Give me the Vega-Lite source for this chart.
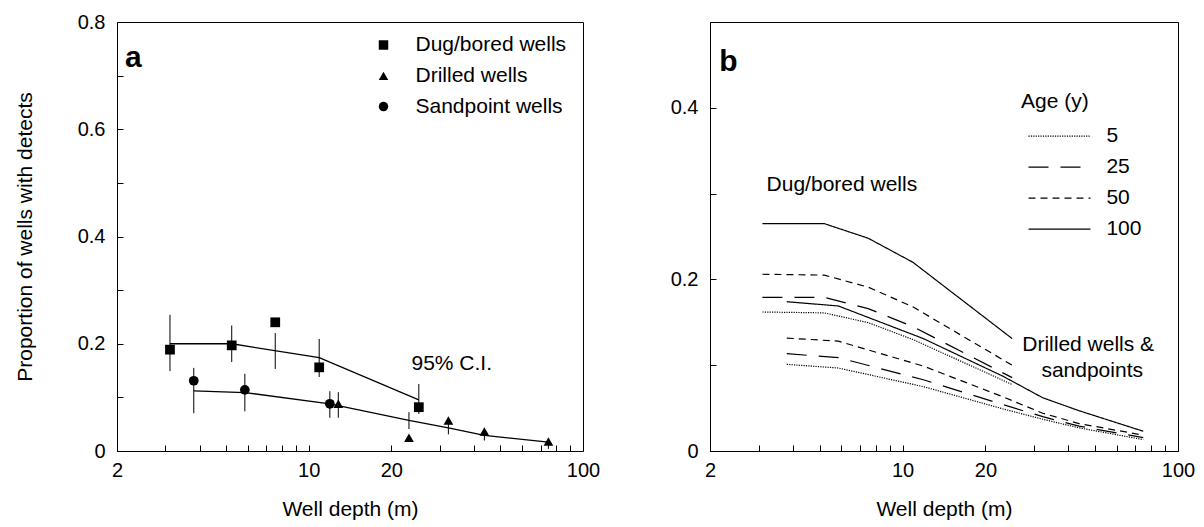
{
  "$schema": "https://vega.github.io/schema/vega-lite/v6.json",
  "padding": {"left": 13, "top": 11, "right": 5, "bottom": 5},
  "background": "white",
  "spacing": 127,
  "bounds": "flush",
  "config": {
    "font": "Liberation Sans",
    "view": {"stroke": "black", "strokeWidth": 1},
    "axis": {"grid": false, "domain": false, "offset": -6, "tickColor": "black", "tickSize": 6, "tickWidth": 1, "labelColor": "black", "labelFontSize": 20, "labelFont": "Liberation Sans", "titleFont": "Liberation Sans", "titleFontSize": 21, "titleFontWeight": "normal", "titleColor": "black", "labelPadding": 12, "labelFlush": false, "labelOverlap": false, "labelBound": false},
    "axisX": {"labelPadding": 9, "titlePadding": 18},
    "axisY": {"titlePadding": 42},
    "legend": {"labelFont": "Liberation Sans", "labelFontSize": 21, "labelColor": "black", "titleFont": "Liberation Sans", "titleColor": "black"},
    "text": {"font": "Liberation Sans", "color": "black"}
  },
  "datasets": {
    "pointsA": [
      {"type": "Dug/bored wells", "depth": 3.12, "p": 0.189, "lo": 0.149, "hi": 0.254},
      {"type": "Dug/bored wells", "depth": 5.24, "p": 0.197, "lo": 0.166, "hi": 0.234},
      {"type": "Dug/bored wells", "depth": 7.55, "p": 0.240, "lo": 0.153, "hi": 0.220},
      {"type": "Dug/bored wells", "depth": 10.92, "p": 0.156, "lo": 0.138, "hi": 0.209},
      {"type": "Dug/bored wells", "depth": 25.2, "p": 0.0817, "lo": 0.069, "hi": 0.125},
      {"type": "Sandpoint wells", "depth": 3.81, "p": 0.131, "lo": 0.0705, "hi": 0.155},
      {"type": "Sandpoint wells", "depth": 5.85, "p": 0.114, "lo": 0.074, "hi": 0.144},
      {"type": "Sandpoint wells", "depth": 11.94, "p": 0.088, "lo": 0.062, "hi": 0.1115},
      {"type": "Drilled wells", "depth": 12.82, "p": 0.088, "lo": 0.062, "hi": 0.1097},
      {"type": "Drilled wells", "depth": 23.2, "p": 0.0246, "lo": 0.041, "hi": 0.0724},
      {"type": "Drilled wells", "depth": 32.3, "p": 0.0569, "lo": 0.031, "hi": 0.062},
      {"type": "Drilled wells", "depth": 43.7, "p": 0.0364, "lo": 0.0196, "hi": 0.043},
      {"type": "Drilled wells", "depth": 74.8, "p": 0.0177, "lo": 0.004, "hi": 0.023}
    ],
    "fitA": [
      {"curve": "dug", "depth": 3.12, "p": 0.200},
      {"curve": "dug", "depth": 5.24, "p": 0.200},
      {"curve": "dug", "depth": 10.92, "p": 0.174},
      {"curve": "dug", "depth": 25.2, "p": 0.0955},
      {"curve": "drilled", "depth": 3.81, "p": 0.1123},
      {"curve": "drilled", "depth": 5.85, "p": 0.109},
      {"curve": "drilled", "depth": 11.94, "p": 0.088},
      {"curve": "drilled", "depth": 23.2, "p": 0.0569},
      {"curve": "drilled", "depth": 32.3, "p": 0.043},
      {"curve": "drilled", "depth": 43.7, "p": 0.029},
      {"curve": "drilled", "depth": 74.8, "p": 0.0164}
    ],
    "linesB": [
      {"well": "dug", "age": "100", "depth": 3.1, "p": 0.265},
      {"well": "dug", "age": "100", "depth": 5.2, "p": 0.265},
      {"well": "dug", "age": "100", "depth": 7.5, "p": 0.248},
      {"well": "dug", "age": "100", "depth": 10.9, "p": 0.220},
      {"well": "dug", "age": "100", "depth": 25.0, "p": 0.131},
      {"well": "dug", "age": "50", "depth": 3.1, "p": 0.206},
      {"well": "dug", "age": "50", "depth": 5.2, "p": 0.205},
      {"well": "dug", "age": "50", "depth": 7.5, "p": 0.191},
      {"well": "dug", "age": "50", "depth": 10.9, "p": 0.168},
      {"well": "dug", "age": "50", "depth": 25.0, "p": 0.100},
      {"well": "dug", "age": "25", "depth": 3.1, "p": 0.179},
      {"well": "dug", "age": "25", "depth": 5.2, "p": 0.179},
      {"well": "dug", "age": "25", "depth": 7.5, "p": 0.166},
      {"well": "dug", "age": "25", "depth": 10.9, "p": 0.145},
      {"well": "dug", "age": "25", "depth": 25.0, "p": 0.0855},
      {"well": "dug", "age": "5", "depth": 3.1, "p": 0.162},
      {"well": "dug", "age": "5", "depth": 5.2, "p": 0.161},
      {"well": "dug", "age": "5", "depth": 7.5, "p": 0.1496},
      {"well": "dug", "age": "5", "depth": 10.9, "p": 0.130},
      {"well": "dug", "age": "5", "depth": 25.0, "p": 0.0775},
      {"well": "drilled", "age": "100", "depth": 3.8, "p": 0.174},
      {"well": "drilled", "age": "100", "depth": 5.85, "p": 0.169},
      {"well": "drilled", "age": "100", "depth": 11.9, "p": 0.131},
      {"well": "drilled", "age": "100", "depth": 23.2, "p": 0.087},
      {"well": "drilled", "age": "100", "depth": 32.3, "p": 0.062},
      {"well": "drilled", "age": "100", "depth": 43.7, "p": 0.047},
      {"well": "drilled", "age": "100", "depth": 74.8, "p": 0.023},
      {"well": "drilled", "age": "50", "depth": 3.8, "p": 0.1316},
      {"well": "drilled", "age": "50", "depth": 5.85, "p": 0.128},
      {"well": "drilled", "age": "50", "depth": 11.9, "p": 0.099},
      {"well": "drilled", "age": "50", "depth": 23.2, "p": 0.063},
      {"well": "drilled", "age": "50", "depth": 32.3, "p": 0.044},
      {"well": "drilled", "age": "50", "depth": 43.7, "p": 0.032},
      {"well": "drilled", "age": "50", "depth": 74.8, "p": 0.0185},
      {"well": "drilled", "age": "25", "depth": 3.8, "p": 0.1134},
      {"well": "drilled", "age": "25", "depth": 5.85, "p": 0.1088},
      {"well": "drilled", "age": "25", "depth": 11.9, "p": 0.083},
      {"well": "drilled", "age": "25", "depth": 23.2, "p": 0.054},
      {"well": "drilled", "age": "25", "depth": 32.3, "p": 0.040},
      {"well": "drilled", "age": "25", "depth": 43.7, "p": 0.029},
      {"well": "drilled", "age": "25", "depth": 74.8, "p": 0.0156},
      {"well": "drilled", "age": "5", "depth": 3.8, "p": 0.101},
      {"well": "drilled", "age": "5", "depth": 5.85, "p": 0.0967},
      {"well": "drilled", "age": "5", "depth": 11.9, "p": 0.075},
      {"well": "drilled", "age": "5", "depth": 23.2, "p": 0.049},
      {"well": "drilled", "age": "5", "depth": 32.3, "p": 0.037},
      {"well": "drilled", "age": "5", "depth": 43.7, "p": 0.027},
      {"well": "drilled", "age": "5", "depth": 74.8, "p": 0.0133}
    ],
    "textA": [
      {"label": "95% C.I.", "depth": 23.7, "p": 0.1507}
    ],
    "panelA": [
      {"label": "a", "depth": 2.14, "p": 0.716}
    ],
    "textBLeft": [
      {"label": "Dug/bored wells", "depth": 3.21, "p": 0.3025}
    ],
    "textBCenter": [
      {"label": "Drilled wells &", "depth": 47.2, "p": 0.1165},
      {"label": "sandpoints", "depth": 48.8, "p": 0.0862}
    ],
    "panelB": [
      {"label": "b", "depth": 2.16, "p": 0.4434}
    ]
  },
  "hconcat": [
    {
      "width": 466,
      "height": 429,
      "layer": [
        {
          "data": {"name": "pointsA"},
          "mark": {"type": "rule", "color": "black", "strokeWidth": 1},
          "encoding": {
            "x": {"field": "depth", "type": "quantitative", "scale": {"type": "log", "domain": [2, 100], "nice": false}, "title": "Well depth (m)",
              "axis": {"values": [2, 3, 4, 5, 6, 7, 8, 9, 10, 20, 30, 40, 50, 60, 70, 80, 90, 100], "labelExpr": "indexof([2,10,20,100], datum.value) >= 0 ? format(datum.value, 'd') : ''"}},
            "y": {"field": "lo", "type": "quantitative", "scale": {"domain": [0, 0.8], "nice": false, "zero": false}, "title": "Proportion of wells with detects",
              "axis": {"values": [0, 0.1, 0.2, 0.3, 0.4, 0.5, 0.6, 0.7, 0.8], "labelExpr": "round(datum.value*10) % 2 == 0 ? (datum.value == 0 ? '0' : format(datum.value, '.1f')) : ''"}},
            "y2": {"field": "hi"}
          }
        },
        {
          "data": {"name": "fitA"},
          "mark": {"type": "line", "color": "black", "strokeWidth": 1.3},
          "encoding": {
            "x": {"field": "depth", "type": "quantitative", "scale": {"type": "log", "domain": [2, 100], "nice": false}, "title": "Well depth (m)"},
            "y": {"field": "p", "type": "quantitative", "title": "Proportion of wells with detects"},
            "detail": {"field": "curve"}
          }
        },
        {
          "data": {"name": "pointsA"},
          "mark": {"type": "point", "filled": true, "color": "black", "size": 95, "opacity": 1},
          "encoding": {
            "x": {"field": "depth", "type": "quantitative", "scale": {"type": "log", "domain": [2, 100], "nice": false}, "title": "Well depth (m)"},
            "y": {"field": "p", "type": "quantitative", "title": "Proportion of wells with detects"},
            "shape": {"field": "type", "type": "nominal",
              "scale": {"domain": ["Dug/bored wells", "Drilled wells", "Sandpoint wells"], "range": ["square", "triangle-up", "circle"]},
              "legend": {"orient": "none", "legendX": 256, "legendY": 12.5, "title": null, "padding": 0, "labelFontSize": 21, "labelOffset": 21.5, "symbolSize": 90, "rowPadding": 8.8, "symbolFillColor": "black", "symbolStrokeColor": "black", "symbolStrokeWidth": 0}}
          }
        },
        {
          "data": {"name": "textA"},
          "mark": {"type": "text", "align": "left", "baseline": "alphabetic", "fontSize": 21, "color": "black"},
          "encoding": {
            "x": {"field": "depth", "type": "quantitative", "scale": {"type": "log", "domain": [2, 100], "nice": false}},
            "y": {"field": "p", "type": "quantitative"},
            "text": {"field": "label"}
          }
        },
        {
          "data": {"name": "panelA"},
          "mark": {"type": "text", "align": "left", "baseline": "alphabetic", "fontSize": 30, "fontWeight": "bold", "color": "black"},
          "encoding": {
            "x": {"field": "depth", "type": "quantitative", "scale": {"type": "log", "domain": [2, 100], "nice": false}},
            "y": {"field": "p", "type": "quantitative"},
            "text": {"field": "label"}
          }
        }
      ]
    },
    {
      "width": 468,
      "height": 429,
      "layer": [
        {
          "data": {"name": "linesB"},
          "mark": {"type": "line", "color": "black", "strokeWidth": 1.2},
          "encoding": {
            "x": {"field": "depth", "type": "quantitative", "scale": {"type": "log", "domain": [2, 100], "nice": false}, "title": "Well depth (m)",
              "axis": {"values": [2, 3, 4, 5, 6, 7, 8, 9, 10, 20, 30, 40, 50, 60, 70, 80, 90, 100], "labelExpr": "indexof([2,10,20,100], datum.value) >= 0 ? format(datum.value, 'd') : ''"}},
            "y": {"field": "p", "type": "quantitative", "scale": {"domain": [0, 0.5], "nice": false, "zero": false}, "title": null,
              "axis": {"values": [0, 0.1, 0.2, 0.3, 0.4, 0.5], "labelExpr": "round(datum.value*10) % 2 == 0 ? (datum.value == 0 ? '0' : format(datum.value, '.1f')) : ''"}},
            "detail": {"field": "well"},
            "strokeDash": {"field": "age", "type": "nominal",
              "scale": {"domain": ["5", "25", "50", "100"], "range": [[1.2, 1.2], [20, 12], [7, 5], [1, 0]]},
              "legend": {"orient": "none", "legendX": 904, "legendY": 68.6, "title": "Age (y)", "titleFontSize": 21, "titleFontWeight": "normal", "titlePadding": 14, "padding": 0, "labelFontSize": 21, "symbolType": "M -0.6 0 L 11.8 0", "symbolSize": 100, "symbolStrokeWidth": 1.2, "symbolStrokeColor": "black", "labelOffset": 64.4, "rowPadding": 9}}
          }
        },
        {
          "data": {"name": "textBLeft"},
          "mark": {"type": "text", "align": "left", "baseline": "alphabetic", "fontSize": 21, "color": "black"},
          "encoding": {
            "x": {"field": "depth", "type": "quantitative", "scale": {"type": "log", "domain": [2, 100], "nice": false}},
            "y": {"field": "p", "type": "quantitative"},
            "text": {"field": "label"}
          }
        },
        {
          "data": {"name": "textBCenter"},
          "mark": {"type": "text", "align": "center", "baseline": "alphabetic", "fontSize": 21, "color": "black"},
          "encoding": {
            "x": {"field": "depth", "type": "quantitative", "scale": {"type": "log", "domain": [2, 100], "nice": false}},
            "y": {"field": "p", "type": "quantitative"},
            "text": {"field": "label"}
          }
        },
        {
          "data": {"name": "panelB"},
          "mark": {"type": "text", "align": "left", "baseline": "alphabetic", "fontSize": 30, "fontWeight": "bold", "color": "black"},
          "encoding": {
            "x": {"field": "depth", "type": "quantitative", "scale": {"type": "log", "domain": [2, 100], "nice": false}},
            "y": {"field": "p", "type": "quantitative"},
            "text": {"field": "label"}
          }
        }
      ]
    }
  ]
}
